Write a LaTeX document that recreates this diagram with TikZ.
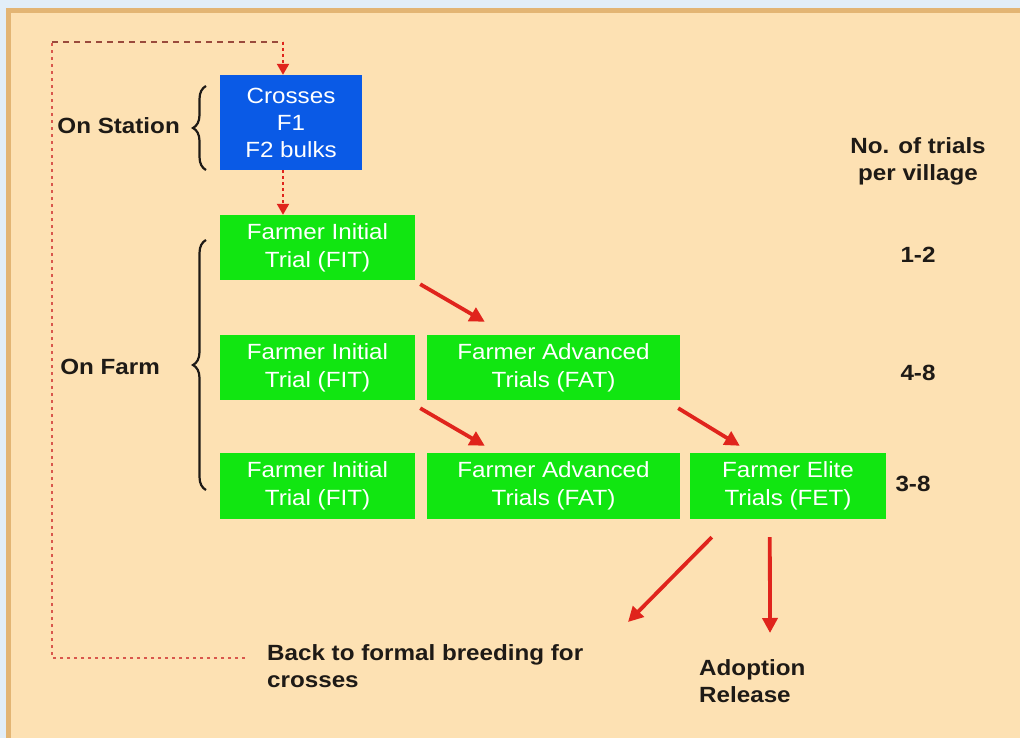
\documentclass[tikz,border=0pt]{standalone}
\usepackage{fontspec}
\setmainfont{Liberation Sans}[FakeStretch=1.1]
\usetikzlibrary{arrows.meta,decorations.pathreplacing,calc}
\definecolor{bgblue}{HTML}{E2EEF8}
\definecolor{frameor}{HTML}{E3B574}
\definecolor{peach}{HTML}{FDE1B3}
\definecolor{boxblue}{HTML}{0A5AE6}
\definecolor{boxgreen}{HTML}{11E611}
\definecolor{arrred}{HTML}{E0241C}
\definecolor{loopred}{HTML}{D9574C}
\definecolor{darkdash}{HTML}{9A4A3C}
\definecolor{txt}{HTML}{1E1A16}
\begin{document}
\begin{tikzpicture}[x=1pt,y=-1pt,
  stagebox/.style={draw=none, inner sep=0pt, text=white, align=center,
    font=\fontsize{22}{28}\selectfont},
  greenbox/.style={stagebox, fill=boxgreen, minimum height=65pt},
  lbl/.style={inner sep=0pt, text=txt, font=\bfseries\fontsize{22}{27}\selectfont},
  redarrow/.style={draw=arrred, line width=3.8pt, -{Triangle[length=15pt,width=15pt]}},
  dotarrow/.style={draw=arrred, line width=2.2pt, dash pattern=on 3pt off 3pt,
    -{Triangle[length=11pt,width=12pt]}},
  looppath/.style={draw=loopred, line width=2.4pt, dash pattern=on 3pt off 4pt},
  topdash/.style={draw=darkdash, line width=2.2pt, dash pattern=on 6pt off 5pt},
  bracestyle/.style={draw=txt, line width=2.2pt, decorate,
    decoration={brace, amplitude=13pt}}
]
% background
\fill[bgblue] (0,0) rectangle (1020,738);
\fill[frameor] (6,8) rectangle (1020,738);
\fill[peach] (11,13) rectangle (1020,738);
\useasboundingbox (0,0) rectangle (1020,738);

% boxes
\node[stagebox, fill=boxblue, minimum width=142pt, minimum height=95pt,
  font=\fontsize{22}{27}\selectfont] (cross) at (291,122.5) {Crosses\\F1\\F2 bulks};
\node[greenbox, minimum width=195pt] (fit1) at (317.5,247.5) {Farmer Initial\\Trial (FIT)};
\node[greenbox, minimum width=195pt] (fit2) at (317.5,367.5) {Farmer Initial\\Trial (FIT)};
\node[greenbox, minimum width=253pt] (fat2) at (553.5,367.5) {Farmer Advanced\\Trials (FAT)};
\node[greenbox, minimum width=195pt, minimum height=66pt] (fit3) at (317.5,486) {Farmer Initial\\Trial (FIT)};
\node[greenbox, minimum width=253pt, minimum height=66pt] (fat3) at (553.5,486) {Farmer Advanced\\Trials (FAT)};
\node[greenbox, minimum width=196pt, minimum height=66pt] (fet3) at (788,486) {Farmer Elite\\Trials (FET)};

% left labels and braces
\node[lbl, anchor=east] (onstation) at (180,126) {On Station};
\node[lbl, anchor=east] (onfarm) at (160,367) {On Farm};
\draw[bracestyle] (206,170) -- (206,86);
\draw[bracestyle] (206,490) -- (206,240);

% right column
\node[lbl, align=center] (ntrials) at (918,161) {No. of trials\\per village};
\node[lbl] (n1) at (918,255) {1-2};
\node[lbl] (n2) at (918,373) {4-8};
\node[lbl] (n3) at (913,484) {3-8};

% bottom labels
\node[lbl, anchor=north west, align=left] (back) at (267,644) {Back to formal breeding for\\crosses};
\node[lbl, anchor=north west, align=left] (adopt) at (699,659) {Adoption\\Release};

% arrows between boxes
\draw[redarrow] ([shift={(5,4)}]fit1.south east) -- ([shift={(58,-13)}]fat2.north west);
\draw[redarrow] ([shift={(5,8)}]fit2.south east) -- ([shift={(58,-7)}]fat3.north west);
\draw[redarrow] ([shift={(-2,8)}]fat2.south east) -- ([shift={(50,-7)}]fet3.north west);

% outcome arrows
\coordinate (backtip) at (628,622);
\coordinate (adopttip) at (770,633);
\draw[redarrow] ([shift={(22,18)}]fet3.south west) -- (backtip);
\draw[redarrow] ([shift={(80,18)}]fet3.south west) -- (adopttip);

% dotted arrows around station box
\draw[dotarrow] ([xshift=-8]cross.south) -- ([xshift=-34.5]fit1.north);
\coordinate (loopstart) at (245,658);
\coordinate (loopbl) at (52,658);
\coordinate (looptl) at (52,42);
\coordinate (looptr) at (283,42);
\draw[looppath] (loopstart) -- (loopbl) -- (looptl);
\draw[topdash] (looptl) -- (looptr);
\draw[dotarrow] (looptr) -- ([xshift=-8]cross.north);
\end{tikzpicture}
\end{document}
